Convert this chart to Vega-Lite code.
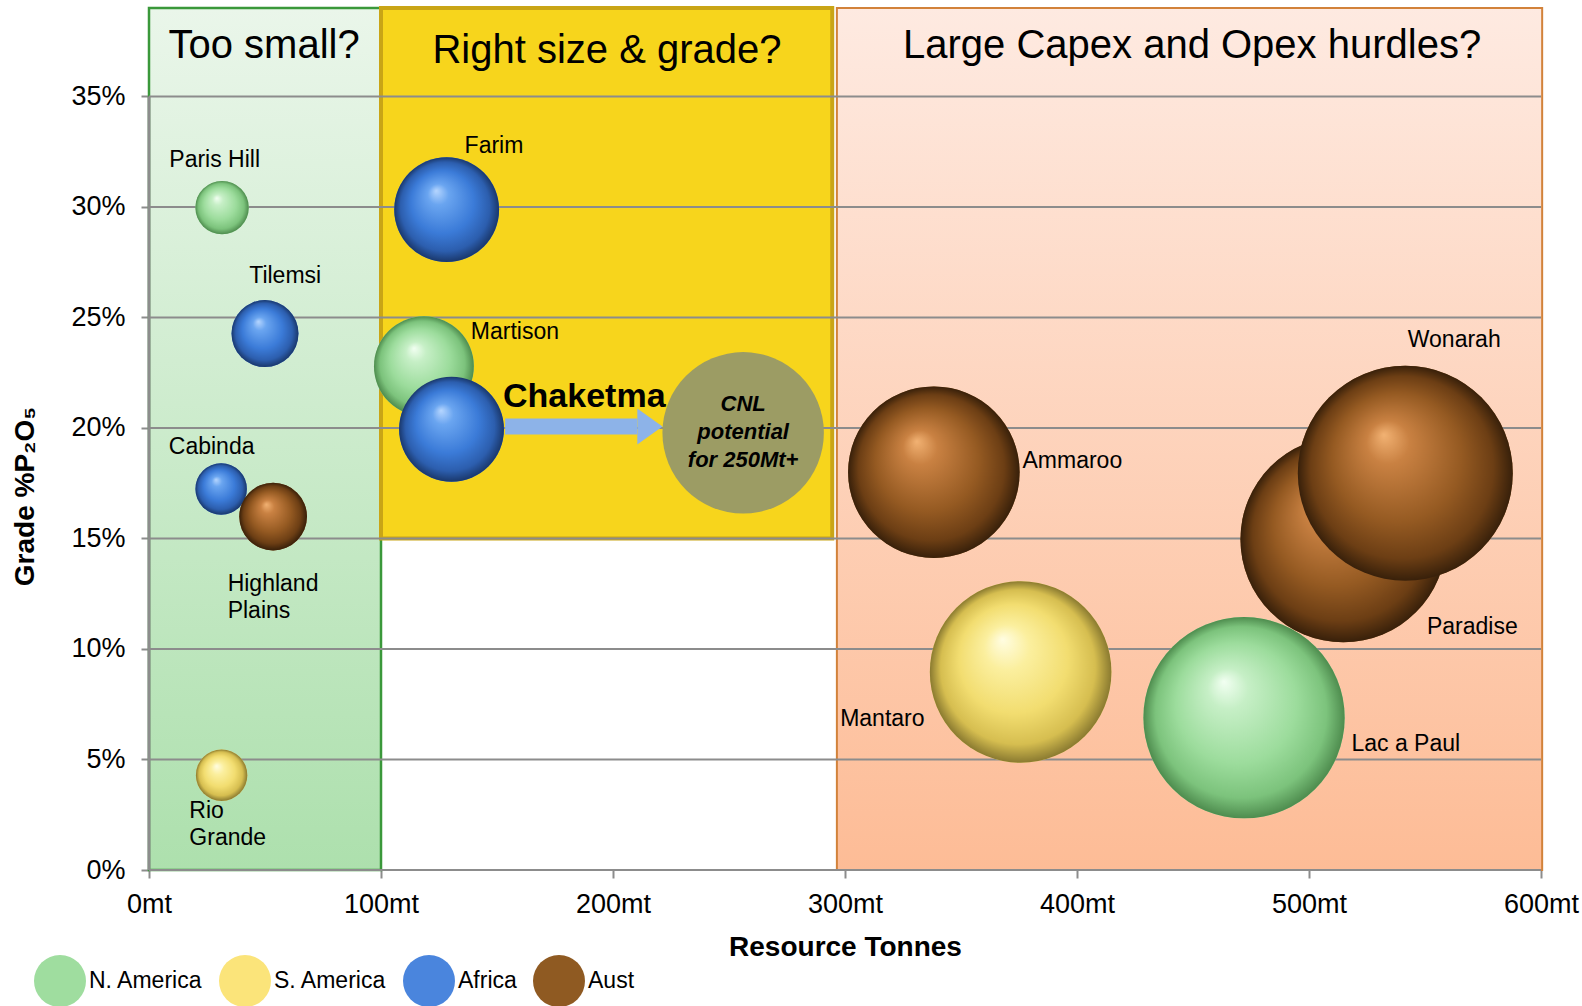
{
  "$schema": "https://vega.github.io/schema/vega-lite/v6.json",
  "autosize": {"type": "none"},
  "padding": {"left": 149, "top": 8, "right": 41, "bottom": 136},
  "width": 1392,
  "height": 862,
  "config": {"view": {"stroke": null}, "font": "Liberation Sans"},
  "datasets": {
    "regions": [
      {"name": "small", "x0": 0, "x1": 100, "y0": 0, "y1": 0.39},
      {"name": "right", "x0": 100, "x1": 294.5, "y0": 0.15, "y1": 0.39},
      {"name": "large", "x0": 296.5, "x1": 600.5, "y0": 0, "y1": 0.39}
    ],
    "titles": [
      {"text": "Too small?", "x": 49.6, "y": 0.3727},
      {"text": "Right size & grade?", "x": 197.4, "y": 0.3704},
      {"text": "Large Capex and Opex hurdles?", "x": 449.6, "y": 0.3727}
    ],
    "grid": [
      {"g": 0}, {"g": 0.05}, {"g": 0.1}, {"g": 0.15}, {"g": 0.2}, {"g": 0.25}, {"g": 0.3}, {"g": 0.35}
    ],
    "yline": [{"x": 0, "y": 0, "y2": 0.35}],
    "bubbles": [
      {"name": "Paris Hill", "region": "N. America", "tonnes": 31.5, "grade": 0.2997, "bubble": 28},
      {"name": "Tilemsi", "region": "Africa", "tonnes": 50.0, "grade": 0.2427, "bubble": 44},
      {"name": "Cabinda", "region": "Africa", "tonnes": 31.1, "grade": 0.1724, "bubble": 26},
      {"name": "Highland Plains", "region": "Aust", "tonnes": 53.5, "grade": 0.1599, "bubble": 45},
      {"name": "Rio Grande", "region": "S. America", "tonnes": 31.3, "grade": 0.0429, "bubble": 26},
      {"name": "Farim", "region": "Africa", "tonnes": 128.3, "grade": 0.2988, "bubble": 108},
      {"name": "Martison", "region": "N. America", "tonnes": 118.5, "grade": 0.2279, "bubble": 98},
      {"name": "Chaketma", "region": "Africa", "tonnes": 130.4, "grade": 0.1994, "bubble": 108},
      {"name": "Ammaroo", "region": "Aust", "tonnes": 338.3, "grade": 0.18, "bubble": 289},
      {"name": "Mantaro", "region": "S. America", "tonnes": 375.7, "grade": 0.0896, "bubble": 324},
      {"name": "Lac a Paul", "region": "N. America", "tonnes": 472.0, "grade": 0.0689, "bubble": 398},
      {"name": "Paradise", "region": "Aust", "tonnes": 514.8, "grade": 0.1496, "bubble": 416},
      {"name": "Wonarah", "region": "Aust", "tonnes": 541.5, "grade": 0.1795, "bubble": 454}
    ],
    "cnl": [{"tonnes": 256.1, "grade": 0.1978, "bubble": 256}],
    "arrow": [{"x": 153.5, "x2": 210.4, "y": 0.2007, "head": 215.9}],
    "labelsCenter": [
      {"text": "Paris Hill", "x": 28.3, "y": 0.3212},
      {"text": "Tilemsi", "x": 58.7, "y": 0.2687},
      {"text": "Cabinda", "x": 27.0, "y": 0.1916},
      {"text": "Farim", "x": 148.7, "y": 0.3276},
      {"text": "Wonarah", "x": 562.6, "y": 0.24},
      {"text": "Paradise", "x": 570.4, "y": 0.1099},
      {"text": "Mantaro", "x": 316.1, "y": 0.0684}
    ],
    "labelsLeft": [
      {"text": "Highland\nPlains", "x": 33.9, "y": 0.1296},
      {"text": "Rio\nGrande", "x": 17.4, "y": 0.0265},
      {"text": "Martison", "x": 138.7, "y": 0.2436},
      {"text": "Ammaroo", "x": 376.5, "y": 0.1852},
      {"text": "Lac a Paul", "x": 518.3, "y": 0.057}
    ],
    "chaketma": [{"text": "Chaketma", "x": 152.6, "y": 0.214}],
    "cnlText": [{"text": "CNL\npotential\nfor 250Mt+", "x": 256.1, "y": 0.2108}]
  },
  "layer": [
    {
      "data": {"name": "regions"},
      "transform": [{"filter": "datum.name == 'small'"}],
      "mark": {"type": "rect", "stroke": "#3a983a", "strokeWidth": 2.5,
        "fill": {"gradient": "linear", "x1": 0, "y1": 0, "x2": 0, "y2": 1,
          "stops": [{"offset": 0, "color": "#eaf6ea"}, {"offset": 1, "color": "#ade0ad"}]}},
      "encoding": {
        "x": {"field": "x0", "type": "quantitative", "scale": {"domain": [0, 600], "nice": false, "zero": false},
          "axis": {"values": [0, 100, 200, 300, 400, 500, 600], "labelExpr": "datum.value + 'mt'", "grid": false, "domain": false,
            "tickColor": "#8c8c8c", "tickWidth": 2, "tickSize": 8, "labelFontSize": 27, "labelColor": "#000", "labelPadding": 13,
            "labelFont": "Liberation Sans", "labelFlush": false, "labelOverlap": false,
            "title": "Resource Tonnes", "titleFontSize": 28, "titleFontWeight": "bold", "titleColor": "#000",
            "titleFont": "Liberation Sans", "titleBaseline": "middle", "titleY": 77}},
        "x2": {"field": "x1"},
        "y": {"field": "y0", "type": "quantitative", "scale": {"domain": [0, 0.39], "nice": false},
          "axis": {"values": [0, 0.05, 0.1, 0.15, 0.2, 0.25, 0.3, 0.35], "format": ".0%", "grid": false, "domain": false,
            "tickColor": "#8c8c8c", "tickWidth": 2, "tickSize": 8, "labelFontSize": 27, "labelColor": "#000", "labelPadding": 16,
            "labelFont": "Liberation Sans",
            "title": "Grade %P₂O₅", "titleFontSize": 28, "titleFontWeight": "bold", "titleColor": "#000",
            "titleFont": "Liberation Sans", "titleBaseline": "middle", "titleX": -124, "titleY": 488}},
        "y2": {"field": "y1"}
      }
    },
    {
      "data": {"name": "regions"},
      "transform": [{"filter": "datum.name == 'right'"}],
      "mark": {"type": "rect", "stroke": "#c9a516", "strokeWidth": 4, "fill": "#f7d51c"},
      "encoding": {
        "x": {"field": "x0", "type": "quantitative"}, "x2": {"field": "x1"},
        "y": {"field": "y0", "type": "quantitative"}, "y2": {"field": "y1"}
      }
    },
    {
      "data": {"name": "regions"},
      "transform": [{"filter": "datum.name == 'large'"}],
      "mark": {"type": "rect", "stroke": "#d2823a", "strokeWidth": 2,
        "fill": {"gradient": "linear", "x1": 0, "y1": 0, "x2": 0, "y2": 1,
          "stops": [{"offset": 0, "color": "#feeae1"}, {"offset": 1, "color": "#fdbc96"}]}},
      "encoding": {
        "x": {"field": "x0", "type": "quantitative"}, "x2": {"field": "x1"},
        "y": {"field": "y0", "type": "quantitative"}, "y2": {"field": "y1"}
      }
    },
    {
      "data": {"name": "grid"},
      "mark": {"type": "rule", "color": "#8c8c8c", "strokeWidth": 2},
      "encoding": {"y": {"field": "g", "type": "quantitative"}}
    },
    {
      "data": {"name": "yline"},
      "mark": {"type": "rule", "color": "#8c8c8c", "strokeWidth": 3},
      "encoding": {"x": {"field": "x", "type": "quantitative"}, "y": {"field": "y", "type": "quantitative"}, "y2": {"field": "y2"}}
    },
    {
      "data": {"name": "titles"},
      "mark": {"type": "text", "fontSize": 40, "align": "center", "baseline": "middle", "color": "#000", "font": "Liberation Sans"},
      "encoding": {"x": {"field": "x", "type": "quantitative"}, "y": {"field": "y", "type": "quantitative"}, "text": {"field": "text"}}
    },
    {
      "data": {"name": "cnl"},
      "mark": {"type": "point", "shape": "circle", "filled": true, "fill": "#9c9c64", "opacity": 1},
      "encoding": {
        "x": {"field": "tonnes", "type": "quantitative"}, "y": {"field": "grade", "type": "quantitative"},
        "size": {"field": "bubble", "type": "quantitative", "scale": {"domain": [0, 500], "range": [0, 50900]}, "legend": null}
      }
    },
    {
      "data": {"name": "arrow"},
      "mark": {"type": "rule", "color": "#8db3e8", "strokeWidth": 16},
      "encoding": {"x": {"field": "x", "type": "quantitative"}, "x2": {"field": "x2"}, "y": {"field": "y", "type": "quantitative"}}
    },
    {
      "data": {"name": "arrow"},
      "mark": {"type": "point", "shape": "M-0.7,-1L0.7,0L-0.7,1Z", "filled": true, "fill": "#8db3e8", "opacity": 1, "size": 1296},
      "encoding": {"x": {"field": "head", "type": "quantitative"}, "y": {"field": "y", "type": "quantitative"}}
    },
    {
      "data": {"name": "bubbles"},
      "mark": {"type": "point", "shape": "circle", "filled": true, "opacity": 1},
      "encoding": {
        "x": {"field": "tonnes", "type": "quantitative"}, "y": {"field": "grade", "type": "quantitative"},
        "size": {"field": "bubble", "type": "quantitative", "legend": null},
        "color": {"field": "region", "type": "nominal",
          "scale": {"domain": ["N. America", "S. America", "Africa", "Aust"], "range": ["#9fdd9f", "#fbe47a", "#4a85dd", "#8f5a22"]},
          "legend": {"orient": "none", "legendX": -115, "legendY": 947, "direction": "horizontal", "title": null,
            "symbolType": "circle", "symbolSize": 2704, "symbolStrokeWidth": 0, "symbolOpacity": 1,
            "labelFontSize": 23, "labelColor": "#000", "labelFont": "Liberation Sans", "labelOffset": 3, "columnPadding": 16}}
      }
    },
    {
      "data": {"name": "bubbles"},
      "transform": [{"filter": "datum.region == 'N. America'"}],
      "mark": {"type": "point", "shape": "circle", "filled": true, "opacity": 1,
        "fill": {"gradient": "radial", "x1": 0.4, "y1": 0.32, "r1": 0, "x2": 0.5, "y2": 0.5, "r2": 0.5,
          "stops": [{"offset": 0, "color": "#f2fff2"}, {"offset": 0.2, "color": "#c6efc6"}, {"offset": 0.6, "color": "#9cdc9c"}, {"offset": 0.85, "color": "#7cc37c"}, {"offset": 1, "color": "#4e8c4e"}]}},
      "encoding": {
        "x": {"field": "tonnes", "type": "quantitative"}, "y": {"field": "grade", "type": "quantitative"},
        "size": {"field": "bubble", "type": "quantitative", "legend": null}
      }
    },
    {
      "data": {"name": "bubbles"},
      "transform": [{"filter": "datum.region == 'S. America'"}],
      "mark": {"type": "point", "shape": "circle", "filled": true, "opacity": 1,
        "fill": {"gradient": "radial", "x1": 0.4, "y1": 0.32, "r1": 0, "x2": 0.5, "y2": 0.5, "r2": 0.5,
          "stops": [{"offset": 0, "color": "#fffde2"}, {"offset": 0.25, "color": "#fbef9e"}, {"offset": 0.6, "color": "#f2dd70"}, {"offset": 0.85, "color": "#d6be50"}, {"offset": 1, "color": "#8a7a30"}]}},
      "encoding": {
        "x": {"field": "tonnes", "type": "quantitative"}, "y": {"field": "grade", "type": "quantitative"},
        "size": {"field": "bubble", "type": "quantitative", "legend": null}
      }
    },
    {
      "data": {"name": "bubbles"},
      "transform": [{"filter": "datum.region == 'Africa'"}],
      "mark": {"type": "point", "shape": "circle", "filled": true, "opacity": 1,
        "fill": {"gradient": "radial", "x1": 0.4, "y1": 0.32, "r1": 0, "x2": 0.5, "y2": 0.5, "r2": 0.5,
          "stops": [{"offset": 0, "color": "#b6d6ff"}, {"offset": 0.2, "color": "#6aa5f0"}, {"offset": 0.6, "color": "#3b7bd8"}, {"offset": 0.85, "color": "#2c5eae"}, {"offset": 1, "color": "#1a386c"}]}},
      "encoding": {
        "x": {"field": "tonnes", "type": "quantitative"}, "y": {"field": "grade", "type": "quantitative"},
        "size": {"field": "bubble", "type": "quantitative", "legend": null}
      }
    },
    {
      "data": {"name": "bubbles"},
      "transform": [{"filter": "datum.region == 'Aust'"}],
      "mark": {"type": "point", "shape": "circle", "filled": true, "opacity": 1,
        "fill": {"gradient": "radial", "x1": 0.4, "y1": 0.32, "r1": 0, "x2": 0.5, "y2": 0.5, "r2": 0.5,
          "stops": [{"offset": 0, "color": "#f2b273"}, {"offset": 0.2, "color": "#c98142"}, {"offset": 0.6, "color": "#955a22"}, {"offset": 0.85, "color": "#6c3e14"}, {"offset": 1, "color": "#38200a"}]}},
      "encoding": {
        "x": {"field": "tonnes", "type": "quantitative"}, "y": {"field": "grade", "type": "quantitative"},
        "size": {"field": "bubble", "type": "quantitative", "legend": null}
      }
    },
    {
      "data": {"name": "labelsCenter"},
      "mark": {"type": "text", "fontSize": 23, "align": "center", "baseline": "middle", "color": "#000", "font": "Liberation Sans"},
      "encoding": {"x": {"field": "x", "type": "quantitative"}, "y": {"field": "y", "type": "quantitative"}, "text": {"field": "text"}}
    },
    {
      "data": {"name": "labelsLeft"},
      "mark": {"type": "text", "fontSize": 23, "align": "left", "baseline": "middle", "lineBreak": "\n", "lineHeight": 27, "color": "#000", "font": "Liberation Sans"},
      "encoding": {"x": {"field": "x", "type": "quantitative"}, "y": {"field": "y", "type": "quantitative"}, "text": {"field": "text"}}
    },
    {
      "data": {"name": "chaketma"},
      "mark": {"type": "text", "fontSize": 34, "fontWeight": "bold", "align": "left", "baseline": "middle", "color": "#000", "font": "Liberation Sans"},
      "encoding": {"x": {"field": "x", "type": "quantitative"}, "y": {"field": "y", "type": "quantitative"}, "text": {"field": "text"}}
    },
    {
      "data": {"name": "cnlText"},
      "mark": {"type": "text", "fontSize": 22, "fontWeight": "bold", "fontStyle": "italic", "align": "center", "baseline": "middle", "lineBreak": "\n", "lineHeight": 28, "color": "#000", "font": "Liberation Sans"},
      "encoding": {"x": {"field": "x", "type": "quantitative"}, "y": {"field": "y", "type": "quantitative"}, "text": {"field": "text"}}
    }
  ]
}
